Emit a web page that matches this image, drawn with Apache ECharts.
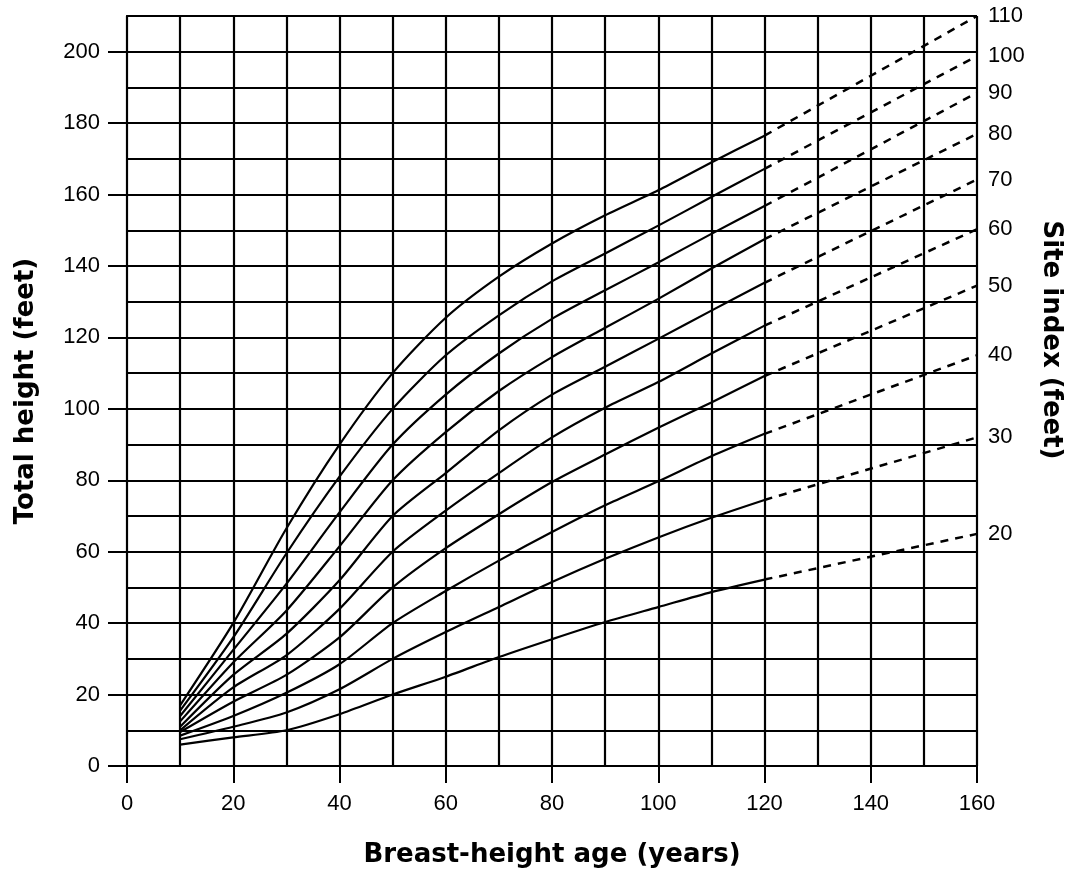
<!DOCTYPE html>
<html>
<head>
<meta charset="utf-8">
<title>Site index curves</title>
<script src="https://cdn.jsdelivr.net/npm/echarts@6/dist/echarts.min.js"></script>
<style>
    html, body { margin: 0; padding: 0; background: #fff; }
    #chart { width: 1073px; height: 872px; }
</style>
</head>
<body>
<div id="chart"></div>
<script>
    // breast-height age (years) for the solid part of the curves
    var ages = [10, 20, 30, 40, 50, 60, 70, 80, 90, 100, 110, 120];

    // total height (feet) per site index curve
    var si20  = [6, 8, 10, 14.5, 20, 25, 30.5, 35.5, 40.3, 44.5, 48.7, 52.2];
    var si30  = [7.5, 11, 15, 21.5, 30, 37.5, 44.5, 51.5, 58, 64, 69.5, 74.5];
    var si40  = [8.5, 14, 20.5, 28.5, 40, 49, 57.5, 65.5, 73, 79.7, 86.7, 93];
    var si50  = [9.5, 18, 25.5, 36, 50, 61, 70.5, 79.5, 87.2, 94.7, 101.8, 109.2];
    var si60  = [10, 22, 31, 44, 60, 71.5, 82, 92, 100.3, 107.5, 115.5, 123.3];
    var si70  = [11, 25.5, 37, 52, 70, 82, 94, 104, 111.8, 119.6, 127.5, 135.3];
    var si80  = [12.5, 29, 43.5, 61.5, 80, 93.5, 105, 114.5, 122.7, 130.8, 139.3, 147.5];
    var si90  = [14, 32.5, 51, 71, 90, 104, 115.5, 125.2, 133.2, 141, 149, 156.8];
    var si100 = [15.5, 36, 59.5, 81, 100, 115, 126.2, 135.7, 143.5, 151.3, 159.3, 167.2];
    var si110 = [17, 40, 66.5, 90, 110, 125.5, 137, 146.3, 154.2, 161.2, 169, 176.5];

    var siteIndex = [20, 30, 40, 50, 60, 70, 80, 90, 100, 110];
    var curves = [si20, si30, si40, si50, si60, si70, si80, si90, si100, si110];

    // dashed extrapolation: from age 120 to age 160
    var extAge = 160;
    var heightAt160 = [65, 92, 115, 134.5, 150.3, 164.2, 177, 188.5, 198.8, 210];

    var xTickLabels = [0, 20, 40, 60, 80, 100, 120, 140, 160];
    var yTickLabels = [0, 20, 40, 60, 80, 100, 120, 140, 160, 180, 200];

    var black = '#000';
    var tickFont = 'Liberation Sans';

    var series = [];
    curves.forEach(function (h, i) {
        series.push({
            name: 'SI ' + siteIndex[i],
            type: 'line',
            xAxisIndex: 0,
            yAxisIndex: 0,
            data: ages.map(function (a, k) { return [a, h[k]]; }),
            smooth: 0.25,
            showSymbol: false,
            symbol: 'none',
            lineStyle: { color: black, width: 2.2 }
        });
        series.push({
            name: 'SI ' + siteIndex[i] + ' ext',
            type: 'line',
            xAxisIndex: 0,
            yAxisIndex: 0,
            data: [[ages[ages.length - 1], h[h.length - 1]], [extAge, heightAt160[i]]],
            showSymbol: false,
            symbol: 'none',
            lineStyle: { color: black, width: 2.5, type: [8, 7] },
            endLabel: {
                show: true,
                formatter: String(siteIndex[i]),
                distance: 11,
                color: black,
                fontSize: 22,
                fontFamily: tickFont
            }
        });
    });

    var options = {
        animation: false,
        backgroundColor: '#fff',
        grid: {
            left: 127,
            right: 96,
            top: 16,
            bottom: 106,
            outerBoundsMode: 'none'
        },
        xAxis: [
            {
                type: 'value',
                position: 'bottom',
                min: 0,
                max: 160,
                interval: 10,
                name: 'Breast-height age (years)',
                nameLocation: 'middle',
                nameGap: 76,
                nameTextStyle: { color: black, fontSize: 26, fontWeight: 'bold', fontFamily: 'DejaVu Sans' },
                axisLine: { show: true, lineStyle: { color: black, width: 2 } },
                axisTick: { show: true, inside: false, length: 17, customValues: xTickLabels, lineStyle: { color: black, width: 2 } },
                axisLabel: { customValues: xTickLabels, margin: 27, color: black, fontSize: 22, fontFamily: tickFont },
                splitLine: { show: false }
            },
            {
                type: 'value',
                position: 'top',
                min: 0,
                max: 160,
                interval: 10,
                axisLine: { show: true, lineStyle: { color: black, width: 2 } },
                axisTick: { show: false },
                axisLabel: { show: false },
                splitLine: { show: true, lineStyle: { color: black, width: 2.2 } }
            }
        ],
        yAxis: [
            {
                type: 'value',
                position: 'left',
                min: 0,
                max: 210,
                interval: 10,
                name: 'Total height (feet)',
                nameLocation: 'middle',
                nameGap: 88,
                nameTextStyle: { color: black, fontSize: 26, fontWeight: 'bold', fontFamily: 'DejaVu Sans' },
                axisLine: { show: true, lineStyle: { color: black, width: 2 } },
                axisTick: { show: true, inside: false, length: 19, customValues: yTickLabels, lineStyle: { color: black, width: 2 } },
                axisLabel: { customValues: yTickLabels, margin: 27, color: black, fontSize: 22, fontFamily: tickFont },
                splitLine: { show: false }
            },
            {
                type: 'value',
                position: 'right',
                min: 0,
                max: 210,
                interval: 10,
                axisLine: { show: true, lineStyle: { color: black, width: 2 } },
                axisTick: { show: false },
                axisLabel: { show: false },
                splitLine: { show: true, lineStyle: { color: black, width: 1.8 } }
            }
        ],
        graphic: [
            {
                type: 'text',
                x: 1051,
                y: 340,
                rotation: -Math.PI / 2,
                style: {
                    text: 'Site index (feet)',
                    fill: black,
                    font: 'bold 26px "DejaVu Sans"',
                    align: 'center',
                    verticalAlign: 'middle'
                }
            }
        ],
        series: series
    };

    var siteChart = echarts.init(document.getElementById('chart'));
    siteChart.setOption(options);
</script>
</body>
</html>
